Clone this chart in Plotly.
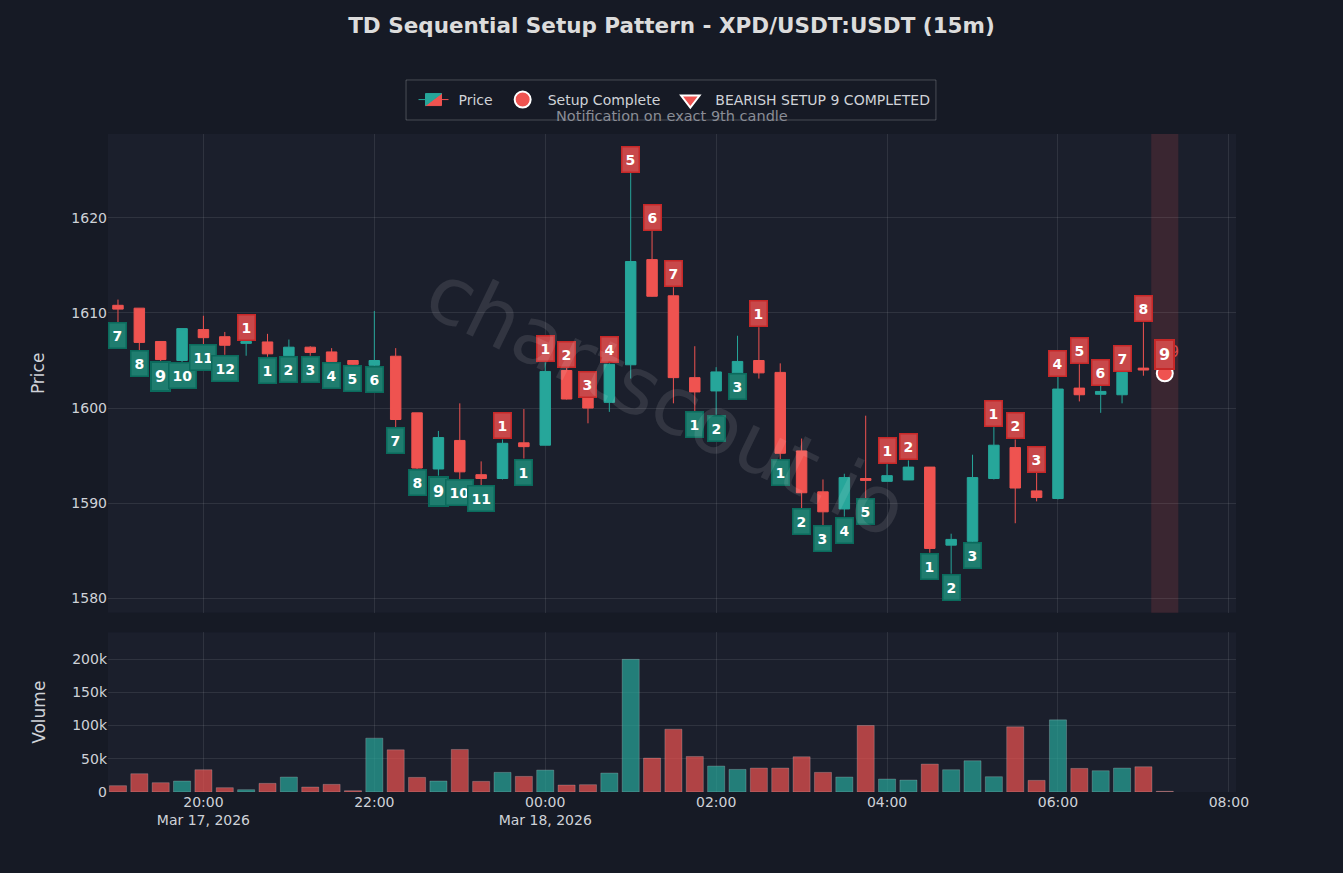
import pandas as pd
import plotly.graph_objects as go
from plotly.subplots import make_subplots

# 15m candles, Mar 17 19:00 -> Mar 18 07:15
times = pd.date_range("2026-03-17 19:00", periods=50, freq="15min")

opens = [1610.8, 1610.5, 1607.0, 1605.0, 1608.25, 1607.5, 1606.8, 1606.95, 1605.5, 1606.4,
         1605.9, 1605.0, 1604.5, 1605.45, 1599.5, 1593.6, 1596.6, 1593.0, 1592.6, 1596.35,
         1596.1, 1603.95, 1601.1, 1600.6, 1604.55, 1615.6, 1611.8, 1603.2, 1601.8, 1603.7,
         1605.0, 1603.75, 1595.5, 1591.2, 1589.4, 1592.6, 1592.3, 1592.45, 1593.8, 1585.6,
         1586.0, 1592.6, 1595.85, 1591.3, 1590.5, 1602.1, 1601.45, 1601.4, 1604.2, 1603.9]
highs = [1611.4, 1610.5, 1607.0, 1608.35, 1609.7, 1608.0, 1607.1, 1607.8, 1607.2, 1606.5,
         1606.3, 1605.0, 1610.2, 1606.3, 1599.5, 1597.6, 1600.5, 1594.4, 1596.7, 1599.9,
         1604.8, 1604.2, 1601.1, 1604.7, 1624.7, 1618.6, 1612.7, 1606.5, 1604.3, 1607.6,
         1608.5, 1604.7, 1596.8, 1592.5, 1593.1, 1599.2, 1594.1, 1594.5, 1593.8, 1586.8,
         1595.1, 1598.0, 1596.7, 1593.2, 1603.3, 1604.6, 1602.35, 1603.75, 1609.0, 1604.0]
lows = [1609.0, 1606.1, 1604.9, 1604.8, 1606.7, 1605.6, 1605.5, 1605.4, 1605.5, 1605.5,
        1604.8, 1604.5, 1604.4, 1598.0, 1593.6, 1592.9, 1592.5, 1591.9, 1592.5, 1594.7,
        1596.1, 1600.9, 1598.4, 1599.6, 1603.1, 1611.7, 1600.5, 1599.7, 1599.3, 1603.7,
        1603.1, 1594.6, 1589.5, 1587.7, 1588.6, 1590.5, 1592.3, 1592.45, 1584.8, 1582.6,
        1585.9, 1592.5, 1587.9, 1590.2, 1590.4, 1600.7, 1599.5, 1600.5, 1603.4, 1603.4]
closes = [1610.4, 1606.9, 1605.1, 1608.35, 1607.4, 1606.6, 1607.0, 1605.7, 1606.4, 1605.85,
          1604.9, 1604.6, 1605.0, 1598.8, 1593.7, 1596.9, 1593.3, 1592.6, 1596.3, 1595.95,
          1603.85, 1600.95, 1600.0, 1604.6, 1615.4, 1611.75, 1603.2, 1601.7, 1603.8, 1604.9,
          1603.7, 1595.25, 1591.1, 1589.1, 1592.7, 1592.4, 1592.9, 1593.8, 1585.25, 1586.2,
          1592.7, 1596.1, 1591.6, 1590.6, 1602.0, 1601.4, 1601.75, 1603.75, 1604.0, 1603.7]
volumes = [9500, 27500, 14000, 16500, 33500, 6500, 3500, 13000, 22500, 7500,
           11500, 2000, 81000, 63500, 22000, 16500, 64000, 16000, 29500, 23500,
           33000, 10500, 11000, 28500, 199500, 51000, 94500, 53500, 39000, 34000,
           36000, 36000, 53000, 29500, 22500, 100000, 19500, 18000, 42000, 33500,
           47000, 23000, 98000, 17500, 108500, 35500, 32000, 36000, 38000, 1000]

# TD setup counts: "B" = buy setup (below low), "S" = sell setup (above high)
setup_side = ["B", "B", "B", "B", "B", "B", "S", "B", "B", "B",
              "B", "B", "B", "B", "B", "B", "B", "B", "S", "B",
              "S", "S", "S", "S", "S", "S", "S", "B", "B", "B",
              "S", "B", "B", "B", "B", "B", "S", "S", "B", "B",
              "B", "S", "S", "S", "S", "S", "S", "S", "S", "S"]
setup_count = [7, 8, 9, 10, 11, 12, 1, 1, 2, 3,
               4, 5, 6, 7, 8, 9, 10, 11, 1, 1,
               1, 2, 3, 4, 5, 6, 7, 1, 2, 3,
               1, 1, 2, 3, 4, 5, 1, 2, 1, 2,
               3, 1, 2, 3, 4, 5, 6, 7, 8, 9]

complete_idx = 49
complete_price = 1603.65
bearish_text_price = 1605.8

INC = "#26a69a"
DEC = "#ef5350"
BG = "#161a25"
PLOT_BG = "#1b1f2c"
GRID = "rgba(255,255,255,0.09)"
FONT = "DejaVu Sans"

fig = make_subplots(rows=2, cols=1, shared_xaxes=True,
                    vertical_spacing=0.03, row_heights=[0.75, 0.25])

fig.add_trace(go.Candlestick(
    x=times, open=opens, high=highs, low=lows, close=closes, name="Price",
    increasing=dict(line=dict(color=INC, width=1), fillcolor=INC),
    decreasing=dict(line=dict(color=DEC, width=1), fillcolor=DEC),
), row=1, col=1)

vol_colors = ["rgba(38,166,154,0.7)" if c >= o else "rgba(239,83,80,0.7)"
              for o, c in zip(opens, closes)]
fig.add_trace(go.Bar(
    x=times, y=volumes, marker=dict(color=vol_colors, line=dict(color="rgba(255,255,255,0.2)", width=1)),
    showlegend=False, name="Volume",
), row=2, col=1)

fig.add_trace(go.Scatter(
    x=[times[complete_idx]], y=[complete_price], mode="markers",
    marker=dict(symbol="circle", size=16, color=DEC, line=dict(color="white", width=2)),
    name="Setup Complete",
), row=1, col=1)

fig.add_trace(go.Scatter(
    x=[times[complete_idx]], y=[bearish_text_price], mode="markers+text",
    marker=dict(symbol="triangle-down", size=16, color=DEC, line=dict(color="white", width=2)),
    text=["\U0001F53B9"], textposition="middle center",
    textfont=dict(color="#d94a4a", size=15, family=FONT),
    name="BEARISH SETUP 9 COMPLETED",
), row=1, col=1)

# setup count labels
for i, (side, cnt) in enumerate(zip(setup_side, setup_count)):
    big = cnt == 9
    if side == "S":
        y, anchor, bg, border = highs[i], "bottom", "#c8484a", "#c62828"
    else:
        y, anchor, bg, border = lows[i], "top", "#1f7d6f", "#0b6a5c"
    fig.add_annotation(
        x=times[i], y=y, xref="x", yref="y", text=f"<b>{cnt}</b>",
        showarrow=False, yanchor=anchor, height=21 if big else 18,
        font=dict(color="white", size=16 if big else 14, family=FONT),
        bgcolor=bg, bordercolor=border, borderwidth=2 if big else 1.5,
        borderpad=3,
    )

# highlight of the 9th candle
fig.add_shape(type="rect", xref="x", yref="y domain",
              x0=times[complete_idx] - pd.Timedelta(minutes=9.5),
              x1=times[complete_idx] + pd.Timedelta(minutes=9.5),
              y0=0, y1=1, fillcolor="rgba(239,83,80,0.15)", line=dict(width=0), layer="below")

# legend frame (a bit taller than plotly's own legend border)
fig.add_shape(type="rect", xref="paper", yref="paper",
              x0=0.2642, x1=0.734, y0=1.0213, y1=1.0821,
              line=dict(color="rgba(255,255,255,0.22)", width=1), fillcolor="rgba(0,0,0,0)")

# watermark
fig.add_annotation(x=0.495, y=0.595, xref="paper", yref="paper", text="chartscout.io",
                   showarrow=False, textangle=26,
                   font=dict(size=80, color="rgba(255,255,255,0.1)", family=FONT))

fig.add_annotation(x=0.5, y=1.027, xref="paper", yref="paper", yanchor="middle",
                   text="Notification on exact 9th candle", showarrow=False,
                   font=dict(size=14.5, color="#8a8d96", family=FONT))

fig.update_layout(
    width=1343, height=873,
    title=dict(text="<b>TD Sequential Setup Pattern - XPD/USDT:USDT (15m)</b>",
               x=0.5, xanchor="center", y=0.971, yanchor="middle",
               font=dict(size=21.5, color="#dcdcdc", family=FONT)),
    paper_bgcolor=BG, plot_bgcolor=PLOT_BG,
    font=dict(family=FONT, color="#cfd2d8", size=14),
    margin=dict(l=108, r=107, t=134, b=81),
    legend=dict(orientation="h", x=0.5, xanchor="center", y=1.0274, yanchor="bottom",
                bgcolor="rgba(0,0,0,0)", borderwidth=0,
                font=dict(size=14, color="#d0d3d8"), itemwidth=40),
    showlegend=True,
    bargap=0.2,
)

xrange = [pd.Timestamp("2026-03-17 18:53"), pd.Timestamp("2026-03-18 08:05")]
fig.update_xaxes(range=xrange, gridcolor=GRID, showline=False, zeroline=False,
                 tickformat="%H:%M\n%b %d, %Y", dtick=7200000)
fig.update_xaxes(rangeslider_visible=False, row=1, col=1)
fig.update_yaxes(gridcolor=GRID, zeroline=False, showline=False)
fig.update_yaxes(title_text="Price", range=[1578.5, 1628.8], dtick=10, row=1, col=1,
                 title_font=dict(size=17), title_standoff=22)
fig.update_yaxes(title_text="Volume", range=[0, 240000], tickvals=[0, 50000, 100000, 150000, 200000],
                 ticktext=["0", "50k", "100k", "150k", "200k"], row=2, col=1,
                 title_font=dict(size=17), title_standoff=22)

fig.write_html("out.html", config={"displayModeBar": False},
               post_script="document.body.style.margin='0';")
